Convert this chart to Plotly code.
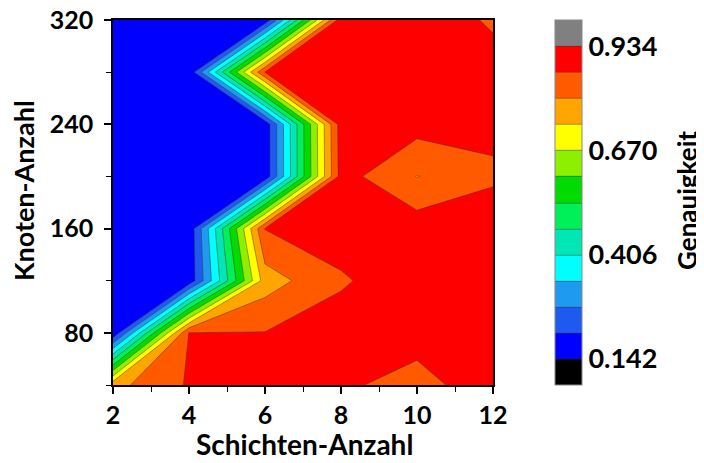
import plotly.graph_objects as go

# Data grid: Schichten-Anzahl (x) vs Knoten-Anzahl (y) -> Genauigkeit (z)
schichten = [2, 4, 6, 8, 10, 12]
knoten = [40, 80, 120, 160, 200, 240, 280, 320]

# rows follow knoten (bottom -> top), columns follow schichten
genauigkeit_40 = [0.78, 0.875, 0.90, 0.885, 0.83, 0.93]
genauigkeit_80 = [0.15, 0.87, 0.87, 0.90, 0.91, 0.91]
genauigkeit_120 = [0.15, 0.16, 0.77, 0.86, 0.91, 0.91]
genauigkeit_160 = [0.15, 0.16, 0.87, 0.90, 0.905, 0.92]
genauigkeit_200 = [0.15, 0.16, 0.16, 0.895, 0.80, 0.855]
genauigkeit_240 = [0.15, 0.16, 0.16, 0.90, 0.894, 0.888]
genauigkeit_280 = [0.15, 0.16, 0.87, 0.91, 0.91, 0.892]
genauigkeit_320 = [0.15, 0.16, 0.16, 0.905, 0.905, 0.86]

z = [genauigkeit_40, genauigkeit_80, genauigkeit_120, genauigkeit_160,
     genauigkeit_200, genauigkeit_240, genauigkeit_280, genauigkeit_320]

level_start = 0.142
level_size = 0.066
level_end = 0.9345
scale_min = 0.076
scale_max = 1.0
cbar_ticks = [0.142, 0.406, 0.670, 0.934]
cbar_ticktext = ["0.142", "0.406", "0.670", "0.934"]

band_colors = [
    "#000000", "#0000FF", "#1E5AF0", "#1E9BF0", "#00FFFF", "#00E6B4",
    "#00F05A", "#00DC00", "#8CF000", "#FFFF00", "#FFA500", "#FF5A00",
    "#FF0000", "#808080",
]
n = len(band_colors) - 1
colorscale = [[i / n, c] for i, c in enumerate(band_colors)]

FONT = "Lato"
BOLD = dict(family=FONT, color="black", weight="bold")

fig = go.Figure(
    go.Contour(
        x=schichten,
        y=knoten,
        z=z,
        zauto=False, zmin=scale_min, zmax=scale_max,
        colorscale=colorscale,
        autocontour=False,
        contours=dict(start=level_start, end=level_end, size=level_size,
                      coloring="fill", showlines=True),
        line=dict(color="rgba(70,40,30,0.75)", width=0.6, smoothing=0),
        colorbar=dict(
            x=1.163, xanchor="left", xpad=0,
            y=0.5, yanchor="middle", len=1.0, lenmode="fraction", ypad=0,
            thickness=27, thicknessmode="pixels",
            outlinewidth=1, outlinecolor="#888888",
            tickvals=cbar_ticks, ticktext=cbar_ticktext,
            ticks="", ticklabeloverflow="allow",
            tickfont=dict(size=27, **BOLD),
        ),
        showscale=True,
    )
)

# The page body adds an 8px offset, so the margins are set 8px smaller on left/top.
fig.update_layout(
    width=704, height=463,
    margin=dict(l=105, r=219, t=12, b=86, autoexpand=False),
    paper_bgcolor="white", plot_bgcolor="white",
    font=dict(family=FONT, color="black"),
    annotations=[
        dict(text="Schichten-Anzahl", xref="paper", yref="paper",
             x=0.505, y=-0.162, xanchor="center", yanchor="middle",
             showarrow=False, font=dict(size=28, **BOLD)),
        dict(text="Knoten-Anzahl", xref="paper", yref="paper",
             x=-0.237, y=0.534, xanchor="center", yanchor="middle",
             textangle=-90, showarrow=False, font=dict(size=27, **BOLD)),
        dict(text="Genauigkeit", xref="paper", yref="paper",
             x=1.5105, y=0.507, xanchor="center", yanchor="middle",
             textangle=-90, showarrow=False, font=dict(size=26, **BOLD)),
    ],
)

fig.update_xaxes(
    range=[2, 12], tickvals=[2, 4, 6, 8, 10, 12], automargin=False,
    ticks="outside", ticklen=7, tickwidth=1.5, tickcolor="black",
    minor=dict(tickvals=[3, 5, 7, 9, 11], ticks="outside", ticklen=5, tickwidth=1.2, tickcolor="black"),
    showline=True, linecolor="black", linewidth=1.5, mirror=True,
    showgrid=False, zeroline=False, ticklabeloverflow="allow",
    tickfont=dict(size=25, **BOLD),
)
fig.update_yaxes(
    range=[40, 320], tickvals=[80, 160, 240, 320], automargin=False,
    ticks="outside", ticklen=7, tickwidth=1.5, tickcolor="black",
    minor=dict(tickvals=[40, 120, 200, 280], ticks="outside", ticklen=5, tickwidth=1.2, tickcolor="black"),
    showline=True, linecolor="black", linewidth=1.5, mirror=True,
    showgrid=False, zeroline=False, ticklabelstandoff=6, ticklabeloverflow="allow",
    tickfont=dict(size=25, **BOLD),
)

fig.write_html("out.html")
